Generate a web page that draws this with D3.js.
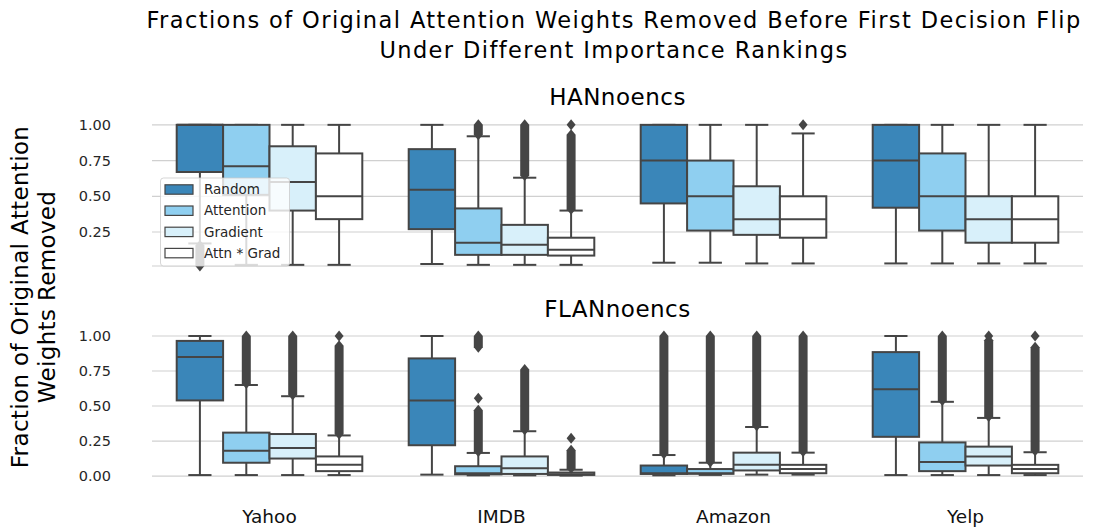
<!DOCTYPE html>
<html lang="en">
<head>
<meta charset="UTF-8">
<title>Fractions of Original Attention Weights Removed</title>
<script src="https://d3js.org/d3.v7.min.js"></script>
<style>
    body { margin: 0; background: #fff; }
    text { font-family: "DejaVu Sans", Verdana, sans-serif; }
    .grid line { stroke: #d0d0d0; stroke-width: 1.2; }
    .tick-label { font-size: 14.5px; fill: #262626; }
    .cat-label { font-size: 18.5px; fill: #111; }
    .title { font-size: 22.5px; fill: #000; letter-spacing: 1.4px; }
    .sub-title { font-size: 23px; fill: #000; letter-spacing: 0.5px; }
    .y-title { font-size: 23px; fill: #000; letter-spacing: 0.35px; }
    .legend text { font-size: 13.5px; fill: #262626; }
</style>
</head>
<body>
<script>
const datasets = ["Yahoo", "IMDB", "Amazon", "Yelp"]
const rankings = ["Random", "Attention", "Gradient", "Attn * Grad"]
const panelNames = ["HANnoencs", "FLANnoencs"]
const colors = ["#3a86b9", "#8fcff0", "#d8f0fa", "#ffffff"]

// box stats per dataset: [lower whisker, q1, median, q3, upper whisker]
const hanRandom    = [[0.17, 0.67, 1.0, 1.0, 1.0], [0.026, 0.27, 0.545, 0.83, 1.0], [0.035, 0.45, 0.75, 1.0, 1.0], [0.03, 0.42, 0.75, 1.0, 1.0]]
const hanAttention = [[0.02, 0.51, 0.71, 1.0, 1.0], [0.02, 0.09, 0.175, 0.415, 0.92], [0.035, 0.26, 0.50, 0.75, 1.0], [0.03, 0.26, 0.50, 0.80, 1.0]]
const hanGradient  = [[0.02, 0.40, 0.60, 0.85, 1.0], [0.02, 0.09, 0.16, 0.30, 0.63], [0.03, 0.23, 0.34, 0.57, 1.0], [0.03, 0.175, 0.34, 0.50, 1.0]]
const hanAttnGrad  = [[0.02, 0.34, 0.50, 0.80, 1.0], [0.02, 0.085, 0.126, 0.21, 0.40], [0.03, 0.21, 0.34, 0.50, 0.94], [0.03, 0.175, 0.34, 0.50, 1.0]]

const flanRandom    = [[0.007, 0.54, 0.85, 0.965, 1.0], [0.01, 0.22, 0.54, 0.84, 1.0], [0.005, 0.015, 0.02, 0.075, 0.15], [0.007, 0.28, 0.62, 0.885, 1.0]]
const flanAttention = [[0.007, 0.095, 0.18, 0.31, 0.65], [0.005, 0.012, 0.02, 0.07, 0.165], [0.008, 0.016, 0.02, 0.05, 0.095], [0.007, 0.035, 0.10, 0.24, 0.53]]
const flanGradient  = [[0.007, 0.125, 0.20, 0.30, 0.57], [0.005, 0.015, 0.055, 0.14, 0.32], [0.01, 0.04, 0.08, 0.167, 0.35], [0.007, 0.075, 0.14, 0.21, 0.415]]
const flanAttnGrad  = [[0.007, 0.035, 0.08, 0.14, 0.29], [0.003, 0.008, 0.012, 0.025, 0.045], [0.01, 0.02, 0.05, 0.08, 0.167], [0.007, 0.02, 0.05, 0.08, 0.17]]

// outliers per dataset, as [low, high] runs of densely packed points (low == high for a single point)
const hanRandomOut    = [[[0.012, 0.155]], [], [], []]
const hanAttentionOut = [[], [[0.93, 1.0]], [], []]
const hanGradientOut  = [[], [[0.645, 1.0]], [], []]
const hanAttnGradOut  = [[], [[0.41, 0.93], [1.0, 1.0]], [[1.0, 1.0]], []]

const flanRandomOut    = [[], [], [[0.16, 1.0]], []]
const flanAttentionOut = [[[0.66, 1.0]], [[0.175, 0.47], [0.555, 0.555], [0.92, 1.0]], [[0.10, 1.0]], [[0.54, 1.0]]]
const flanGradientOut  = [[[0.58, 1.0]], [[0.33, 0.76]], [[0.36, 1.0]], [[0.425, 0.97], [1.0, 1.0]]]
const flanAttnGradOut  = [[[0.30, 0.93], [1.0, 1.0]], [[0.055, 0.185], [0.27, 0.27]], [[0.175, 1.0]], [[0.18, 0.92], [1.0, 1.0]]]

const topTicks = [0.25, 0.5, 0.75, 1.0]
const bottomTicks = [0, 0.25, 0.5, 0.75, 1.0]

const panels = [
    {name: panelNames[0], stats: [hanRandom, hanAttention, hanGradient, hanAttnGrad],
     out: [hanRandomOut, hanAttentionOut, hanGradientOut, hanAttnGradOut],
     ticks: topTicks, domain: [0.012, 1.055], top: 117, bottom: 266},
    {name: panelNames[1], stats: [flanRandom, flanAttention, flanGradient, flanAttnGrad],
     out: [flanRandomOut, flanAttentionOut, flanGradientOut, flanAttnGradOut],
     ticks: bottomTicks, domain: [-0.014, 1.05], top: 329, bottom: 478}
]

const W = 1100, H = 531
const edge = "#454545"

const svg = d3.select("body").append("svg")
    .attr("width", W)
    .attr("height", H)

const x = d3.scaleBand().domain(datasets).range([153.5, 1081.5])
const hue = d3.scaleBand().domain(rankings).range([x.bandwidth() * 0.1, x.bandwidth() * 0.9])
const bw = hue.bandwidth()

svg.append("text").attr("class", "title")
    .attr("x", 614).attr("y", 28).attr("text-anchor", "middle")
    .text("Fractions of Original Attention Weights Removed Before First Decision Flip")
svg.append("text").attr("class", "title")
    .attr("x", 614).attr("y", 58).attr("text-anchor", "middle")
    .text("Under Different Importance Rankings")

const yTitle = svg.append("text").attr("class", "y-title")
    .attr("transform", "translate(0,297) rotate(-90)")
    .attr("text-anchor", "middle")
yTitle.append("tspan").attr("x", 0).attr("y", 28).text("Fraction of Original Attention")
yTitle.append("tspan").attr("x", 0).attr("y", 55).text("Weights Removed")

panels.forEach((p, pi) => {
    const y = d3.scaleLinear().domain(p.domain).range([p.bottom, p.top])
    const g = svg.append("g")

    g.append("g").attr("class", "grid")
        .selectAll("line")
        .data(p.ticks)
        .join("line")
        .attr("x1", x.range()[0] - 1.5).attr("x2", x.range()[1] + 1.5)
        .attr("y1", d => y(d)).attr("y2", d => y(d))
    if (!p.ticks.includes(0)) {
        g.append("line")
            .attr("x1", x.range()[0] - 1.5).attr("x2", x.range()[1] + 1.5)
            .attr("y1", p.bottom).attr("y2", p.bottom)
            .attr("stroke", "#d0d0d0").attr("stroke-width", 1.2)
    }

    g.selectAll(".tick-label")
        .data(p.ticks)
        .join("text")
        .attr("class", "tick-label")
        .attr("x", 111).attr("y", d => y(d)).attr("dy", "0.35em")
        .attr("text-anchor", "end")
        .text(d3.format(".2f"))

    g.append("text").attr("class", "sub-title")
        .attr("x", x.range()[0] + (x.range()[1] - x.range()[0]) / 2)
        .attr("y", p.top - 12)
        .attr("text-anchor", "middle")
        .text(p.name)

    rankings.forEach((r, ri) => {
        datasets.forEach((ds, di) => {
            const s = p.stats[ri][di]
            const x0 = x(ds) + hue(r)
            const cx = x0 + bw / 2
            const box = g.append("g")
            // whiskers
            box.append("line").attr("x1", cx).attr("x2", cx).attr("y1", y(s[0])).attr("y2", y(s[1]))
                .attr("stroke", edge).attr("stroke-width", 2)
            box.append("line").attr("x1", cx).attr("x2", cx).attr("y1", y(s[3])).attr("y2", y(s[4]))
                .attr("stroke", edge).attr("stroke-width", 2)
            ;[s[0], s[4]].forEach(v => {
                box.append("line").attr("x1", cx - bw / 4).attr("x2", cx + bw / 4)
                    .attr("y1", y(v)).attr("y2", y(v))
                    .attr("stroke", edge).attr("stroke-width", 2)
            })
            box.append("rect")
                .attr("x", x0).attr("width", bw)
                .attr("y", y(s[3])).attr("height", Math.max(0, y(s[1]) - y(s[3])))
                .attr("fill", colors[ri]).attr("stroke", edge).attr("stroke-width", 2)
            box.append("line").attr("x1", x0).attr("x2", x0 + bw)
                .attr("y1", y(s[2])).attr("y2", y(s[2]))
                .attr("stroke", edge).attr("stroke-width", 2)
            // outliers
            p.out[ri][di].forEach(([lo, hi]) => {
                const a = y(hi), b = y(lo), hw = 4.5, hh = 5.5
                box.append("path")
                    .attr("d", `M${cx},${a - hh}L${cx + hw},${a}L${cx + hw},${b}L${cx},${b + hh}L${cx - hw},${b}L${cx - hw},${a}Z`)
                    .attr("fill", edge)
            })
        })
    })

    if (pi === 1) {
        svg.selectAll(".cat-label")
            .data(datasets)
            .join("text")
            .attr("class", "cat-label")
            .attr("x", d => x(d) + x.bandwidth() / 2)
            .attr("y", 523)
            .attr("text-anchor", "middle")
            .text(d => d)
    }
})

// legend in the top panel
const lg = svg.append("g").attr("class", "legend").attr("transform", "translate(160.5,178)")
lg.append("rect")
    .attr("width", 129).attr("height", 88).attr("rx", 3)
    .attr("fill", "rgba(255,255,255,0.8)").attr("stroke", "rgba(204,204,204,0.8)")
rankings.forEach((r, i) => {
    const row = lg.append("g").attr("transform", `translate(0,${11.5 + i * 21.2})`)
    row.append("rect").attr("x", 4.5).attr("y", -4.7).attr("width", 28).attr("height", 9.4)
        .attr("fill", colors[i]).attr("stroke", edge).attr("stroke-width", 1.2)
    row.append("text").attr("x", 43.5).attr("dy", "0.35em").text(r)
})
</script>
</body>
</html>
